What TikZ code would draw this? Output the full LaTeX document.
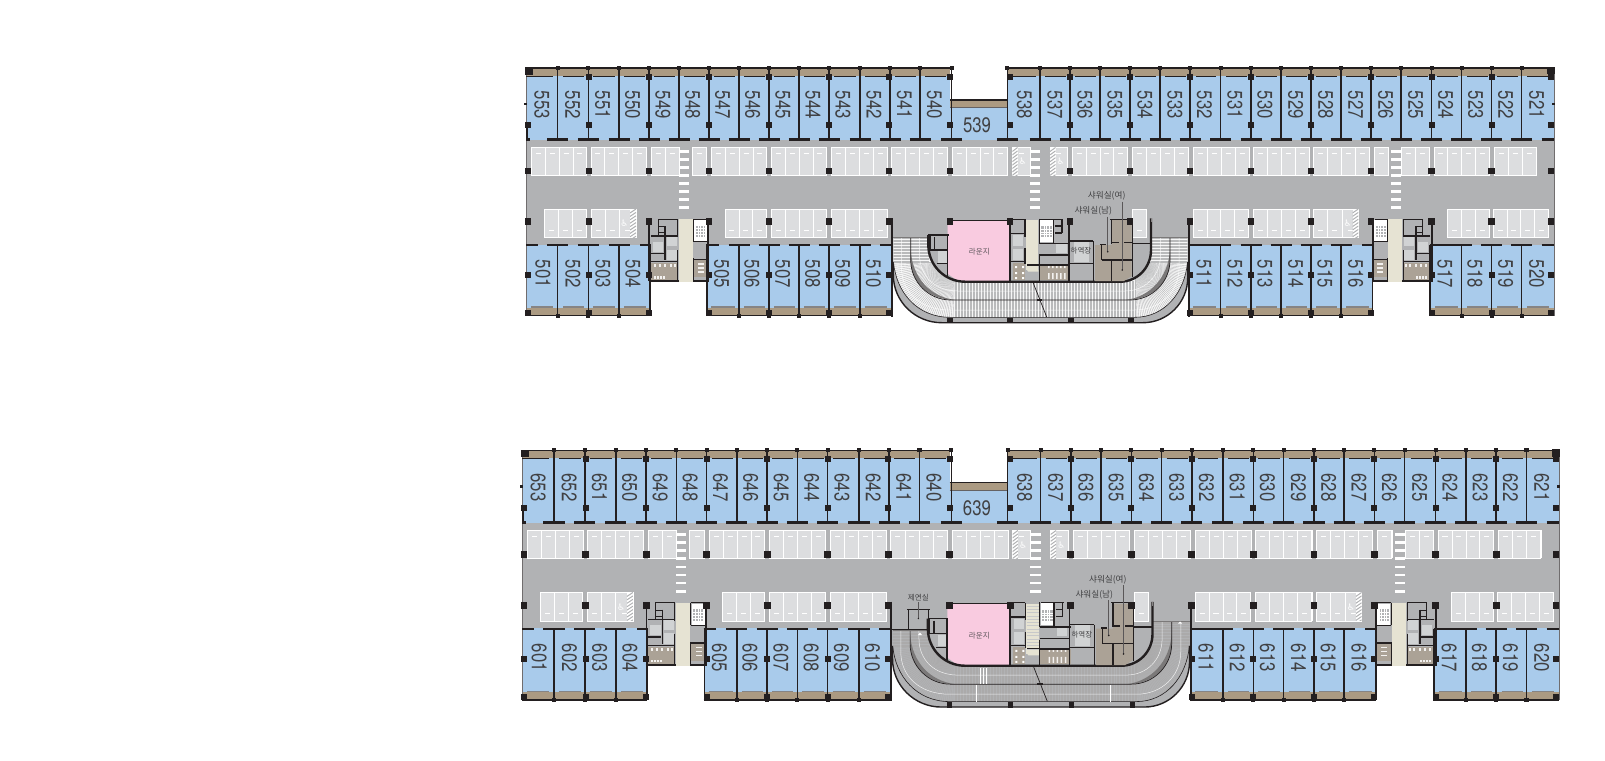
\documentclass[tikz,border=0pt]{standalone}
\usepackage{fontspec}
\setmainfont{Liberation Sans}
\newfontfamily\numf[FakeStretch=0.8]{TeX Gyre Heros}
\newfontfamily\krf{Noto Sans CJK KR}
\newfontfamily\symf{DejaVu Sans}
\definecolor{wallc}{HTML}{231F20}
\definecolor{roomc}{HTML}{A9CBEB}
\definecolor{floorc}{HTML}{B1B2B4}
\definecolor{bandc}{HTML}{AB9A82}
\definecolor{bayc}{HTML}{DCDDDF}
\definecolor{beigec}{HTML}{E6E3D3}
\definecolor{brownc}{HTML}{ABA296}
\definecolor{liftc}{HTML}{D1D3D4}
\definecolor{pinkc}{HTML}{F9CBE0}
\definecolor{txtc}{HTML}{404042}
\tikzset{
  wall/.style={draw=wallc,line width=1.7pt},
  corewall/.style={draw=wallc,line width=1.3pt},
  thick wall/.style={draw=wallc,line width=2.4pt},
  thin wall/.style={draw=wallc,line width=.8pt},
  partition/.style={draw=wallc,line width=1.5pt},
  roomnum/.style={text=txtc,inner sep=0pt,font=\numf\fontsize{21}{21}\selectfont},
  krlabel/.style={text=txtc,inner sep=0pt,font=\krf\fontsize{8.6}{9}\selectfont},
  krsmall/.style={text=txtc,inner sep=0pt,font=\krf\fontsize{7.5}{8}\selectfont},
  bayedge/.style={draw=white,line width=.9pt},
  wheel/.style={text=white,inner sep=0pt,font=\symf\fontsize{9}{9}\selectfont},
  leader/.style={draw=wallc!75,line width=.8pt},
}
\newcommand\PIL[3]{\fill[wallc] ({#1-#2},{#3-#2}) rectangle ({#1+#2},{#3+#2});}
\newcommand\BAYS[5]{% x0,x1,n,y0,y1 (dividers)
  \fill[bayc] (#1,#4) rectangle (#2,#5);
  \draw[bayedge] (#1,#4) rectangle (#2,#5);
  \foreach \i in {1,...,#3}{\draw[bayedge,line width=.8pt] ({#1+(#2-#1)*\i/#3},#4) -- ({#1+(#2-#1)*\i/#3},#5);}
}
\newcommand\TOPBAYS[3]{\BAYS{#1}{#2}{#3}{147.3}{175}
  \foreach \i in {1,...,#3}{\draw[white,line width=.7pt] ({#1+(#2-#1)*(\i-.5)/#3-2.5},153.3) -- ({#1+(#2-#1)*(\i-.5)/#3+2.5},153.3);}}
\newcommand\LOWBAYS[3]{\BAYS{#1}{#2}{#3}{209}{237.3}
  \foreach \i in {1,...,#3}{\draw[white,line width=.7pt] ({#1+(#2-#1)*(\i-.5)/#3-2.5},230) -- ({#1+(#2-#1)*(\i-.5)/#3+2.5},230);}}
\newcommand\HATCH[4]{%
  \fill[white] (#1,#3) rectangle (#2,#4);
  \begin{scope}
    \clip (#1,#3) rectangle (#2,#4);
    \foreach \k in {0,...,9}{\draw[floorc,line width=1pt] (#1,{#3+\k*3.4+4}) -- (#2,{#3+\k*3.4});}
  \end{scope}}
\newcommand\CORE{%
  \fill[floorc] (649,219) rectangle (708.3,281);
  \fill[white] (694.3,220) rectangle (707,241.7);
  \fill[floorc] (695.5,225.5) rectangle (705,237);
  \foreach \x in {698,700.5,703}{\draw[white,line width=.25pt] (\x,225.5) -- (\x,237);}
  \foreach \y in {228.5,231.5,234.5}{\draw[white,line width=.25pt] (695.5,\y) -- (705,\y);}
  \fill[liftc] (666.7,236.7) rectangle (676.7,260);
  \fill[floorc] (666.7,246) rectangle (676.7,249.5);
  \fill[liftc] (652.7,241.7) rectangle (663.3,251.7);
  \fill[brownc] (651,263) rectangle (677.3,280);
  \fill[brownc] (694,260) rectangle (707,277);
  \foreach \x in {654,659,664,670,674}{\fill[white!85!brownc] (\x,264) rectangle ({\x+1.8},267);}
  \foreach \x in {654,657,660,663}{\fill[white!85!brownc] (\x,276) rectangle ({\x+1.8},278.5);}
  \foreach \y in {263,267,271}{\fill[white!85!brownc] (698,\y) rectangle (704,{\y+1.5});}
  \fill[beigec] (679,219.3) rectangle (693,281.5);
  \draw[wall] (649.3,219) -- (649.3,281);
  \draw[wall] (708.3,219) -- (708.3,281);
  \draw[thick wall] (648.5,280.7) -- (679,280.7) (693,280.7) -- (709,280.7);
  \draw[corewall] (658,219.3) -- (677.5,219.3) (693.5,219.3) -- (706,219.3);
  \draw[corewall] (658.3,219) -- (658.3,235) (665,226) -- (665,235) (658,226.7) -- (665,226.7) (658,232.7) -- (665,232.7);
  \draw[corewall] (677.3,219) -- (677.3,237) (677.3,250) -- (677.3,280);
  \draw[corewall] (651,236) -- (677.3,236) (651,253.3) -- (664,253.3) (665,236) -- (665,260);
  \draw[corewall] (649.3,261.7) -- (677.3,261.7);
  \draw[corewall] (693.3,219) -- (693.3,241.7) (693.3,258) -- (693.3,280);
  \draw[corewall] (693.3,241.7) -- (708,241.7) (693.3,259.3) -- (708,259.3);
}
\newcommand\DrawPlan[4]{%
  % floor and rooms
  \fill[floorc] (525.7,140) rectangle (1554,244.5);
  \fill[floorc] (893,237) rectangle (1188,282);
  \fill[roomc] (525.7,74) rectangle (950,140);
  \fill[roomc] (1007.3,74) rectangle (1554,140);
  \fill[roomc] (950,106) rectangle (1007.3,140);
  \fill[roomc] (525.7,244.5) rectangle (650,308);
  \fill[roomc] (706,244.5) rectangle (891.7,308);
  \fill[roomc] (1188,244.5) rectangle (1373,308);
  \fill[roomc] (1429.5,244.5) rectangle (1554,308);
  % bands
  \fill[bandc] (525.7,68) rectangle (950,76);
  \fill[bandc] (1007.3,68) rectangle (1554,76);
  \fill[bandc] (950,100) rectangle (1007.3,107.7);
  \fill[bandc] (525.7,307.5) rectangle (650,315.7);
  \fill[bandc] (706,307.5) rectangle (891.7,315.7);
  \fill[bandc] (1188,307.5) rectangle (1373,315.7);
  \fill[bandc] (1429.5,307.5) rectangle (1554,315.7);
  \draw[thin wall,line width=1.1pt] (525.7,68) -- (950,68) (1007.3,68) -- (1554,68);
  \draw[thin wall,line width=1.1pt] (950,100) -- (1007.3,100);
  \draw[thin wall,draw=wallc!70] (950,107.7) -- (1007.3,107.7);
  \draw[thin wall,line width=1.1pt] (525.7,315.7) -- (650,315.7) (706,315.7) -- (891.7,315.7) (1188,315.7) -- (1373,315.7) (1429.5,315.7) -- (1554,315.7);
  \draw[draw=wallc!65,line width=.9pt] (526,68) -- (526,316) (1554,68) -- (1554,316);
  % thin strips under and over bands
  \foreach \a/\b in {526/553,563/584,593/615,624/645,654/675,684/705,714/735,744/765,774/795,804/825,834/856,865/886,895/916,925/946,1012/1036,1045/1066,1075/1096,1105/1126,1135/1156,1165/1186,1196/1216,1226/1247,1256/1277,1286/1307,1316/1337,1346/1367,1376/1397,1407/1428,1437/1458,1467/1488,1497/1518,1527/1549}
    {\draw[thin wall,line width=.6pt] (\a,76) -- (\b,76);}
  \foreach \a/\b in {531/553,563/584,593/615,624/646,711/735,744/765,774/795,804/825,834/856,865/887,1193/1216,1226/1247,1256/1277,1286/1307,1316/1337,1346/1369,1435/1458,1467/1488,1497/1518,1527/1549}
    {\draw[wallc!55,line width=1.2pt] (\a,307) -- (\b,307);}
  % parking
  \TOPBAYS{531.7}{586.7}{4}\TOPBAYS{591}{646}{4}\TOPBAYS{651}{679}{2}\TOPBAYS{692.3}{706.7}{1}
  \TOPBAYS{711.7}{766.7}{4}\TOPBAYS{771.7}{826.7}{4}\TOPBAYS{831.7}{887.3}{4}\TOPBAYS{891.7}{947.3}{4}
  \TOPBAYS{952.3}{1007.7}{4}\TOPBAYS{1012.3}{1030}{1}\TOPBAYS{1050}{1067.7}{1}\TOPBAYS{1072.3}{1127.7}{4}
  \TOPBAYS{1132.7}{1188.3}{4}\TOPBAYS{1193.3}{1249}{4}\TOPBAYS{1253.3}{1309}{4}\TOPBAYS{1313.3}{1369}{4}
  \TOPBAYS{1374}{1388.3}{1}\TOPBAYS{1401.7}{1429.3}{2}\TOPBAYS{1434}{1489.3}{4}\TOPBAYS{1494.3}{1536}{3}
  \LOWBAYS{544.3}{586}{3}\LOWBAYS{591}{619}{2}\LOWBAYS{619}{636}{1}\LOWBAYS{725}{766.7}{3}
  \LOWBAYS{771.7}{826.7}{4}\LOWBAYS{831.7}{887.3}{4}\LOWBAYS{1132.7}{1146.7}{1}
  \LOWBAYS{1193.3}{1248.3}{4}\LOWBAYS{1253.3}{1309}{4}\LOWBAYS{1313.3}{1342}{2}\LOWBAYS{1342}{1358.3}{1}
  \LOWBAYS{1447.3}{1489.3}{3}\LOWBAYS{1493.3}{1548.3}{4}
  \HATCH{1012.3}{1017.6}{147.5}{175}\HATCH{1050}{1055.5}{147.5}{175}
  \HATCH{630}{636}{209}{237}\HATCH{1352.5}{1358.3}{209}{237}
  \node[wheel] (hc1#1) at (1022.7,161.7) {♿};
  \node[wheel] (hc2#1) at (1060.7,161.7) {♿};
  \node[wheel] (hc3#1) at (624.3,223.3) {♿};
  \node[wheel] (hc4#1) at (1347.7,223.3) {♿};
  % crosswalks
  \foreach \y in {151.7,159.7,...,208}{
    \foreach \x in {679,1030,1391}{\fill[white] (\x,{\y-1.4}) rectangle ({\x+10},{\y+1.4});}}
  % ramp
  \begin{scope}
    \def\RampPath{(893.3,#4) -- (893.3,275) .. controls (893.3,301.5) and (915.2,322.7) .. (941.7,322.7) -- (1143,322.7) .. controls (1167.7,322.7) and (1187.7,302.4) .. (1187.7,277.7) -- (1187.7,237.5) -- (1151,237.5) -- (1151,250) .. controls (1151,267.5) and (1137.5,281.7) .. (1120,281.7) -- (965,281.7) .. controls (944.7,281.7) and (928.3,265.3) .. (928.3,245) -- (928.3,#4) -- cycle}
    \fill[#2] \RampPath;
    \clip \RampPath;
    \foreach \x in {955,956.5,...,1135}{\draw[#3,line width=.4pt] (\x,281) -- (\x,323);}
    \foreach \y in {237,238.5,...,262}{\draw[#3,line width=.4pt] (893,\y) -- (929,\y) (1151,\y) -- (1188,\y);}
    \foreach \a in {90,92,...,180}{\draw[#3,line width=.4pt] (955,262) -- ({955+90*cos(\a)},{262+90*sin(\a)});}
    \foreach \a in {0,2,...,90}{\draw[#3,line width=.4pt] (1135,262) -- ({1135+90*cos(\a)},{262+90*sin(\a)});}
    % outer grey crescent
    \fill[floorc] (893,262) .. controls (896,292) and (917,317.3) .. (950,317.3) -- (1135,317.3) .. controls (1165,317.3) and (1185,292) .. (1188,262) -- (1188,325) -- (893,325) -- cycle;
    % lane lines
    \draw[white,line width=.5pt,opacity=.8] (901.5,#4) -- (901.5,268) .. controls (901.5,292) and (920,310) .. (950,310) -- (1135,310) .. controls (1160,310) and (1179,292) .. (1179,268) -- (1179,237.5);
    \draw[white,line width=.5pt,opacity=.8] (919.5,#4) -- (919.5,255) .. controls (919.5,276) and (935,291) .. (958,291) -- (1125,291) .. controls (1145,291) and (1160.5,276) .. (1160.5,255) -- (1160.5,237.5);
    % middle divider crescents
    \fill[wallc!60] (910.7,250) .. controls (912.5,278) and (930,296.5) .. (955,300) .. controls (928.7,300) and (910.7,282) .. (910.7,260) -- cycle;
    \fill[wallc!60] (1170,250) .. controls (1168,278) and (1150,296.5) .. (1126,300) .. controls (1152,300) and (1170,282) .. (1170,260) -- cycle;
    \draw[wallc,line width=.7pt] (910.7,#4) -- (910.7,260) .. controls (910.7,282) and (928.7,300) .. (950.7,300) -- (1130,300) .. controls (1152,300) and (1170,282) .. (1170,260) -- (1170,237.5);
    \draw[wallc,line width=.6pt] (893.5,262) .. controls (896,292) and (917,317.3) .. (950,317.3) -- (1135,317.3) .. controls (1165,317.3) and (1185,292) .. (1187.5,262);
  \end{scope}
  \draw[wallc,line width=1.4pt] (893,262) -- (893.3,275) .. controls (893.3,301.5) and (915.2,322.7) .. (941.7,322.7) -- (1143,322.7) .. controls (1167.7,322.7) and (1187.7,302.4) .. (1187.7,277.7) -- (1187.7,262);
  \draw[wallc!60,line width=.6pt] (893.3,#4) -- (928.3,#4) (1151,237.5) -- (1187.7,237.5);
  \draw[wallc,line width=.7pt] (1032.7,281.7) -- (1046.7,317);
  \fill[wallc] (1036.5,299) rectangle (1042,301);
  % central block
  \fill[pinkc] (947.5,220) -- (1010,220) -- (1010,281) -- (958,281) -- (948,274) -- cycle;
  \draw[thin wall] (947.5,220) -- (1010,220);
  \draw[corewall,line width=1.6pt] (947.5,235) -- (947.5,276);
  \draw[corewall] (928,235) -- (948.5,235) (930,235) -- (930,250) (934.5,237) -- (934.5,250) (930,250) -- (948,250) (936.5,263.3) -- (948,263.3);
  \fill[liftc] (938,251.2) rectangle (946.7,262.5);
  \draw[thick wall] (928.3,235) -- (928.3,245) .. controls (928.3,265.3) and (944.7,281.7) .. (965,281.7) -- (1120,281.7) .. controls (1137.5,281.7) and (1151,267.5) .. (1151,250) -- (1151,218.3);
  \draw[wallc!55,line width=.8pt] (1151,218.3) -- (1151,222);
  % core B
  \fill[white] (1040,218.5) rectangle (1053,241.7);
  \fill[floorc] (1041.2,226) rectangle (1052,237);
  \foreach \x in {1044,1046.5,1049}{\draw[white,line width=.25pt] (\x,226) -- (\x,237);}
  \foreach \y in {229.5,232,234.5}{\draw[white,line width=.25pt] (1041.2,\y) -- (1052,\y);}
  \fill[liftc] (1013.3,235) rectangle (1023.3,260);
  \fill[floorc] (1013.3,245.5) rectangle (1023.3,248.5);
  \fill[brownc] (1012.5,263) rectangle (1025,280);
  \foreach \y in {266,272,277}{\fill[white] (1015,\y) rectangle (1017,{\y+2}) (1022,\y) rectangle (1024,{\y+2});}
  \fill[liftc] (1056,243.5) rectangle (1066.7,252.7);
  \fill[brownc] (1039.3,265) rectangle (1070,280);
  \foreach \x in {1048,1052,1056,1060,1064}{\fill[white!85!brownc] (\x,266) rectangle ({\x+1.5},268) (\x,273) rectangle ({\x+1.5},279);}
  \fill[beigec] (1026,220) rectangle (1038.3,270);
  \fill[beigec] (1027,270) -- (1038.3,270) -- (1038.3,271.5) -- (1028,271.5) -- cycle;
  \draw[corewall] (1007,219.3) -- (1025,219.3) (1040,219.3) -- (1063,219.3);
  \draw[wall] (1010,219) -- (1010,281);
  \draw[corewall] (1025,219) -- (1025,236.5) (1025,248) -- (1025,264);
  \draw[corewall] (1039.3,218.5) -- (1039.3,243) (1039.3,256) -- (1039.3,281);
  \draw[corewall] (1010,233.3) -- (1025,233.3) (1010,261.7) -- (1025,261.7);
  \draw[corewall] (1053.3,219) -- (1053.3,243.3) (1039.3,243.3) -- (1070,243.3) (1055,226) -- (1062,226) (1055,233) -- (1062,233) (1062,219) -- (1062,233);
  \draw[corewall] (1039.3,255) -- (1068,255) (1027,265) -- (1068.3,265);
  \draw[wall] (1068.8,219) -- (1068.8,281);
  % loading room
  \fill[liftc] (1074,241.7) rectangle (1089.3,261.7);
  \draw[corewall] (1069,241) -- (1093.3,241) (1093.3,241) -- (1093.3,281) (1069,263.3) -- (1093.3,263.3);
  % showers
  \fill[brownc] (1111.7,220) -- (1131.7,220) -- (1131.7,276) -- (1124,281) -- (1095,281) -- (1095,245) -- (1111.7,245) -- cycle;
  \draw[corewall] (1110,219.3) -- (1133,219.3) (1111.7,219) -- (1111.7,243.5) (1132.3,219) -- (1132.3,277);
  \draw[corewall] (1111.7,242.3) -- (1118.5,242.3) (1124,242.3) -- (1132,242.3) (1100,244.3) -- (1106,244.3) (1101.7,244.3) -- (1101.7,260);
  \draw[corewall] (1101.7,260) -- (1132,260) (1111.7,260) -- (1111.7,281);
  \draw[corewall] (1133,243.3) -- (1151,243.3);
  \draw[leader,line width=1.1pt] (1122.3,201.7) -- (1122.3,270);
  \draw[leader] (1107.7,216.7) -- (1107.7,251.7);
  \fill[wallc] (1107.7,251.7) circle (.9) (1122.3,270) circle (.9);
  \node[krlabel] (sf#1) at (1106.7,196) {샤워실(여)};
  \node[krlabel] (sm#1) at (1093.3,211) {샤워실(남)};
  \node[krsmall] (ha#1) at (1081,251) {하역장};
  \node[krsmall,text=txtc!85!pinkc] (lo#1) at (979.3,251.7) {라운지};
  % side cores
  \CORE
  \begin{scope}[shift={(2081,0)},xscale=-1]\CORE\end{scope}
  % partitions
  \foreach \x in {557.7,588.3,619,649,679,709,739,769,799,829,860,890,920,951.5,1007.3,1040,1070,1100,1130,1160,1190,1220.7,1251,1281,1311,1341,1371,1401,1431.7,1461.7,1491.7,1521.7}{
    \draw[partition] (\x,67) -- (\x,139.5);
    \draw[wall,line width=2.4pt] ({\x-10.5},139.5) -- ({\x+10.5},139.5);
    \fill[wallc] ({\x-2},66) rectangle ({\x+2},70);
  }
  \draw[wall,line width=2.4pt] (526,139.5) -- (530,139.5) (1541.7,139.5) -- (1554,139.5);
  \draw[wall] (527,125) -- (527,139.5);
  \foreach \x in {557.7,588.3,619,739,769,799,829,860,1220.7,1251,1281,1311,1341,1461.7,1491.7,1521.7}{
    \draw[partition] (\x,245) -- (\x,316);
    \draw[wall,line width=2.4pt] ({\x-10.5},245) -- ({\x+10.5},245);
    \fill[wallc] ({\x-2},314) rectangle ({\x+2},318);
  }
  \draw[wall,line width=2.4pt] (526,245) -- (538,245) (640,245) -- (651,245) (706,245) -- (718.5,245) (880,245) -- (891.7,245) (1188,245) -- (1210,245) (1362,245) -- (1373,245) (1430,245) -- (1451,245) (1541.7,245) -- (1554,245);
  \draw[wall] (649.8,245) -- (649.8,316) (707,245) -- (707,316) (1372.5,245) -- (1372.5,316) (1430,245) -- (1430,316);
  \draw[wall,line width=2pt] (891.7,218) -- (891.7,316.5) (1189,218) -- (1189,316.5);
  % pillars
  \foreach \x in {589,649,709,769,829,889,950,1010,1070,1130,1190,1251,1311,1371,1431.7,1491.7,1551}{\PIL{\x}{3}{77}}
  \foreach \x in {528,589,649,709,769,829,889,950,1010,1070,1130,1190,1251,1311,1371,1431.7,1491.7,1551}{\PIL{\x}{3}{125}}
  \foreach \x in {528,589,649,709,769,829,889,950,1070,1130,1190,1251,1311,1371,1431.7,1491.7,1551}{\PIL{\x}{3.4}{171}}
  \foreach \x in {528,589,649,709,769,829,889,950,1010,1070,1130,1190,1251,1311,1371,1431.7,1491.7,1551}{\PIL{\x}{3.4}{221.7}}
  \foreach \x in {528,589,649,709,769,829,889,1190,1251,1311,1371,1431.7,1491.7,1551}{\PIL{\x}{3}{275}\PIL{\x}{3}{313}}
  \foreach \x in {950,1010,1071,1131}{\PIL{\x}{2.6}{320.7}}
  \PIL{529}{3.8}{71}\PIL{1551}{3.8}{70.5}
  \PIL{525.7}{1.4}{104}\PIL{1553.5}{1.4}{104}
  % room numbers
  \foreach \n/\x in {53/542,52/572.7,51/602.7,50/632.7,49/663,48/692.7,47/722.7,46/752.7,45/783,44/813,43/843,42/874,41/904.3,40/934.3,38/1024.3,37/1055,36/1085,35/1115,34/1145,33/1175,32/1204.3,31/1235,30/1265,29/1295.7,28/1325.7,27/1355.7,26/1385.7,25/1415.7,24/1445.7,23/1475.7,22/1505.7,21/1536.7}
    {\node[roomnum,rotate=-90] (r#1\n) at (\x,105) {#1\n};}
  \foreach \n/\x in {01/543,02/573,03/603,04/633,05/721.7,06/752,07/782.7,08/812.7,09/842.7,10/873.3,11/1204,12/1235,13/1265,14/1295.7,15/1325,16/1355.7,17/1445,18/1475,19/1505.7,20/1536.7}
    {\node[roomnum,rotate=-90] (r#1\n) at (\x,274) {#1\n};}
  \node[roomnum] (r#139) at (977,125) {#139};
}
\begin{document}
\begin{tikzpicture}[x=1pt,y=-1pt]
  \useasboundingbox (0,0) rectangle (1605,760);
  \fill[white] (0,0) rectangle (1605,760);
  \DrawPlan{5}{white!88!floorc}{floorc!90}{237.5}
  \begin{scope}[shift={(-8.63,381.76)},xscale=1.0088,yscale=1.008]
    \DrawPlan{6}{floorc}{wallc!38}{246.3}
  \end{scope}
  % items only on the lower floor
  \draw[corewall,line width=1.6pt] (907,609.3) -- (930,609.3) (908.3,609) -- (908.3,630) (928.3,609) -- (928.3,618);
  \draw[wallc,line width=1.6pt] (891.7,629.5) -- (928,629.5);
  \draw[leader] (918.3,602) -- (918.3,618);
  \fill[wallc] (918.3,618.5) circle (.8);
  \node[krsmall] (smoke) at (918.3,597.7) {제연실};
  \foreach \y in {606,609.3,...,652}{\draw[floorc!70,line width=.8pt] (1026.7,\y) -- (1038.5,\y);}
  \draw[white,line width=.7pt] (980,668.3) -- (980,684) (983,668.3) -- (983,684) (986,668.3) -- (986,684) (976.7,685) -- (976.7,702) (1110,685) -- (1110,702);
  \fill[white] (918,635) -- (920,632.5) -- (922,635) -- cycle (1178,623.5) -- (1180,621.5) -- (1182,623.5) -- cycle;
\end{tikzpicture}
\end{document}
